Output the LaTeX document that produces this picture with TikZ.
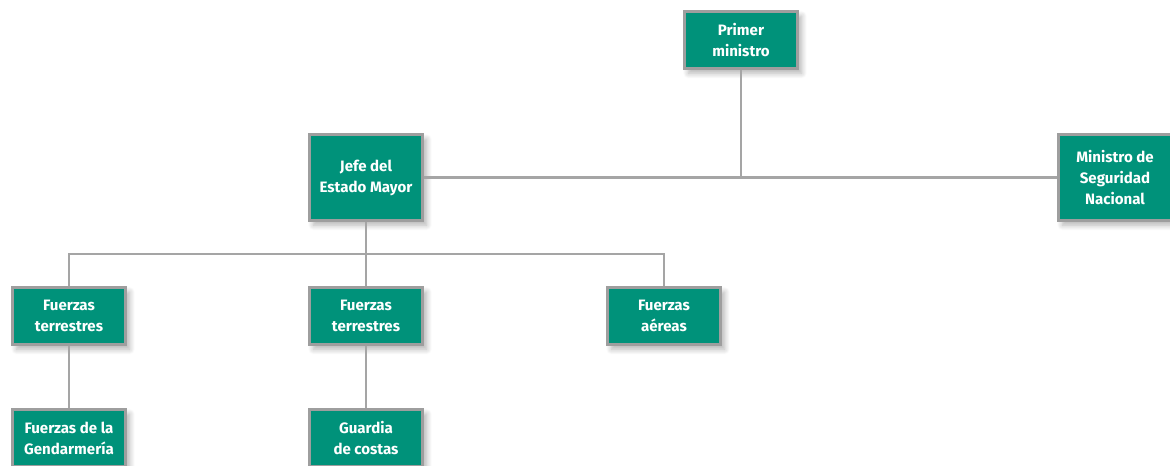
\documentclass[tikz,border=0pt]{standalone}
\usepackage{fontspec}
\setmainfont{Fira Sans}
\usetikzlibrary{shadows.blur}
\definecolor{orgteal}{RGB}{0,146,122}
\definecolor{orgframe}{RGB}{158,158,158}
\definecolor{orgline}{RGB}{165,165,165}

\begin{document}
\begin{tikzpicture}
[every node/.style={inner sep=0pt},
 unit/.style={rectangle, minimum width=85pt, minimum height=43pt, fill=orgteal, line width=2.25pt, draw=orgframe, align=center, text=white, font=\fontsize{11.3}{15.8}\selectfont\bfseries, blur shadow={shadow xshift=3pt, shadow yshift=-3.5pt, shadow blur steps=8, shadow blur radius=4pt, shadow opacity=30}},
 link/.style={line width=1.9pt, color=orgline}]
\useasboundingbox (0pt, 0pt) rectangle (877.5pt, -348.75pt);
\node (pm) [unit] at (555.75pt, -30pt) {Primer\\ministro};
\node (jefe) [unit, minimum height=64.5pt] at (274.5pt, -133.125pt) {Jefe del\\Estado Mayor};
\node (msn) [unit, minimum height=64.5pt] at (836.25pt, -133.125pt) {Ministro de\\Seguridad\\Nacional};
\node (ft1) [unit] at (51.75pt, -237pt) {Fuerzas\\terrestres};
\node (ft2) [unit] at (274.5pt, -237pt) {Fuerzas\\terrestres};
\node (fa) [unit] at (498pt, -237pt) {Fuerzas\\aéreas};
\node (gen) [unit] at (51.75pt, -328.5pt) {Fuerzas de la\\Gendarmería};
\node (gc) [unit] at (274.5pt, -328.5pt) {Guardia\\de costas};
\coordinate (fork) at (274.5pt, -190.5pt);
\draw [link] (jefe) -- (msn);
\draw [link] (pm) -- (pm |- jefe);
\draw [link] (jefe) -- (fork);
\draw [link] (ft1) |- (fork) -| (fa);
\draw [link] (fork) -- (ft2);
\draw [link] (ft1) -- (gen);
\draw [link] (ft2) -- (gc);
\end{tikzpicture}
\end{document}
